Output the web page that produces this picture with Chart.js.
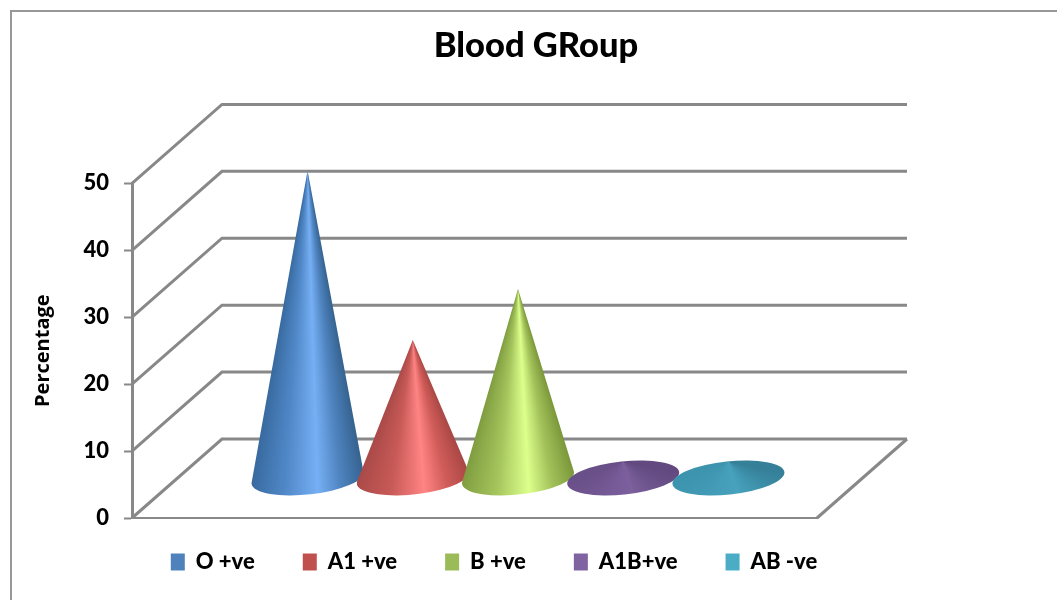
<!DOCTYPE html>
<html>
<head>
<meta charset="utf-8">
<title>Blood Group</title>
<script src="https://cdn.jsdelivr.net/npm/chart.js@4/dist/chart.umd.min.js"></script>
<style>
  html, body { margin: 0; padding: 0; background: #fff; }
  canvas { display: block; }
</style>
</head>
<body>
<canvas id="bloodChart" width="1057" height="600"></canvas>
<script>
const chartTitle = "Blood GRoup";
const axisTitle = "Percentage";
const bloodGroups = ["O +ve", "A1 +ve", "B +ve", "A1B+ve", "AB -ve"];
const percentages = [46, 20.7, 28.3, 2.5, 2.5];
const percentTicks = [0, 10, 20, 30, 40, 50];

const legendColors = ["#4f81bd", "#c0504d", "#9bbb59", "#8064a2", "#4bacc6"];
// left edge, left body, highlight, right body, right edge
const coneShades = [
  ["#386a9f", "#5088c8", "#76aff4", "#4f84c0", "#35628f"],
  ["#a94a48", "#c85a57", "#ff8484", "#d05c59", "#a84744"],
  ["#7f9d40", "#a4c45c", "#dcff8c", "#a3c25a", "#7a973a"],
  ["#6a5088", "#765a98", "#7c5f9c", "#6f558f", "#62497f"],
  ["#3d94ae", "#439cb8", "#47a2bd", "#3f94ae", "#357f98"],
];

const wallColor = "#888888";
const depthX = 90; // how far the back wall sits from the front plane
const depthY = 79;
const coneTilt = (-6 * Math.PI) / 180;

// the chart has no 3D mode, so the walls and cones are painted here from the scales
const conePlugin = {
  id: "cones",
  beforeDraw(chart) {
    // frame only shows on the top and left
    const ctx = chart.ctx;
    ctx.save();
    ctx.strokeStyle = "#989898";
    ctx.lineWidth = 2;
    ctx.beginPath();
    ctx.moveTo(11, chart.height);
    ctx.lineTo(11, 11);
    ctx.lineTo(chart.width, 11);
    ctx.stroke();
    ctx.restore();
  },
  afterLayout(chart) {
    // title and legend are not centered on the plot, and the legend sits
    // closer to the axis than its item gap
    const legend = chart.legend;
    legend.left += 80;
    legend.right += 80;
    legend.top -= 15;
    legend.bottom -= 15;
    const title = chart.titleBlock;
    title.left += 122;
    title.right += 122;
  },
  beforeDatasetsDraw(chart) {
    drawWalls(chart);
    chart.data.datasets.forEach((ds, i) => {
      const bar = chart.getDatasetMeta(i).data[0];
      drawCone(chart.ctx, bar, coneShades[i]);
    });
    return false; // cones replace the flat bars
  },
};

function drawWalls(chart) {
  const ctx = chart.ctx;
  const { left, right, bottom } = chart.chartArea;
  const yScale = chart.scales.y;
  ctx.save();
  ctx.strokeStyle = wallColor;
  ctx.lineWidth = 3;
  yScale.ticks.forEach((tick) => {
    const y = yScale.getPixelForValue(tick.value);
    ctx.beginPath();
    ctx.moveTo(left, y);
    ctx.lineTo(left + depthX, y - depthY);
    ctx.lineTo(right + depthX, y - depthY);
    ctx.stroke();
  });
  // floor edge on the right
  ctx.beginPath();
  ctx.moveTo(right, bottom);
  ctx.lineTo(right + depthX, bottom - depthY);
  ctx.stroke();
  ctx.restore();
}

function drawCone(ctx, bar, shades) {
  const cx = bar.x + depthX / 2 - 1.5;
  const cy = bar.base - depthY / 2;
  const tipX = cx;
  const tipY = bar.y - depthY / 2;
  const a = bar.width * 0.535;
  const b = 16.5;

  // tangent points from the tip onto the tilted base ellipse
  const dx = tipX - cx;
  const dy = tipY - cy;
  const cos = Math.cos(coneTilt);
  const sin = Math.sin(coneTilt);
  const px = (dx * cos + dy * sin) / a;
  const py = (-dx * sin + dy * cos) / b;
  const dist = Math.hypot(px, py);
  const mid = Math.atan2(py, px);
  const spread = dist > 1 ? Math.acos(1 / dist) : Math.PI / 2;
  const phiR = mid + spread;
  const phiL = mid - spread + Math.PI * 2;

  const edgePoint = (phi) => ({
    x: cx + a * Math.cos(phi) * cos - b * Math.sin(phi) * sin,
    y: cy + a * Math.cos(phi) * sin + b * Math.sin(phi) * cos,
  });
  const r = edgePoint(phiR);
  const l = edgePoint(phiL);
  const angR = Math.atan2(r.y - tipY, r.x - tipX);
  let angL = Math.atan2(l.y - tipY, l.x - tipX);
  if (angL < angR) angL += Math.PI * 2;
  const span = (angL - angR) / (Math.PI * 2);

  // conic fill so the shading narrows towards the tip
  const fill = ctx.createConicGradient(angR, tipX, tipY);
  fill.addColorStop(0, shades[4]);
  fill.addColorStop(span * 0.22, shades[3]);
  fill.addColorStop(span * 0.42, shades[2]);
  fill.addColorStop(span * 0.7, shades[1]);
  fill.addColorStop(span, shades[0]);
  fill.addColorStop(Math.min(span + 0.01, 1), shades[0]);
  fill.addColorStop(1, shades[4]);

  ctx.save();
  ctx.fillStyle = fill;
  ctx.beginPath();
  if (dist > 1) {
    ctx.moveTo(tipX, tipY);
    ctx.ellipse(cx, cy, a, b, coneTilt, phiR, phiL, false);
    ctx.closePath();
  } else {
    ctx.ellipse(cx, cy, a, b, coneTilt, 0, Math.PI * 2);
  }
  ctx.fill();
  ctx.restore();
}

const datasets = bloodGroups.map((name, i) => ({
  label: name,
  data: [percentages[i]],
  backgroundColor: legendColors[i],
  borderWidth: 0,
  categoryPercentage: 0.768,
  barPercentage: 1,
}));

new Chart(document.getElementById("bloodChart").getContext("2d"), {
  type: "bar",
  data: { labels: [""], datasets: datasets },
  plugins: [conePlugin],
  options: {
    responsive: false,
    animation: false,
    layout: { padding: { left: 11, right: 240, top: 11, bottom: 2 } },
    plugins: {
      tooltip: { enabled: false },
      title: {
        display: true,
        text: chartTitle,
        color: "#000",
        font: { family: "Lato", size: 34.5, weight: "900" },
        padding: { top: 14, bottom: 117 },
      },
      legend: {
        position: "bottom",
        labels: {
          color: "#000",
          boxWidth: 14,
          boxHeight: 17,
          padding: 48,
          font: { family: "Lato", size: 22, weight: "900" },
        },
      },
    },
    scales: {
      x: {
        display: true,
        grid: { display: false },
        ticks: { display: false },
        border: { color: wallColor, width: 2 },
        afterFit(scale) {
          scale.height = 0;
        },
      },
      y: {
        min: 0,
        max: 50,
        afterBuildTicks(scale) {
          scale.ticks = percentTicks.map((v) => ({ value: v }));
        },
        afterFit(scale) {
          scale.width = 121;
        },
        grid: { drawOnChartArea: false, tickLength: 8, tickColor: wallColor, tickWidth: 2 },
        border: { color: wallColor, width: 3 },
        ticks: {
          color: "#000",
          padding: 15,
          font: { family: "Lato", size: 22, weight: "900" },
        },
        title: {
          display: true,
          text: axisTitle,
          color: "#000",
          font: { family: "Open Sans", size: 20, weight: "bold" },
          padding: { top: 20, bottom: 0 },
        },
      },
    },
  },
});
</script>
</body>
</html>
